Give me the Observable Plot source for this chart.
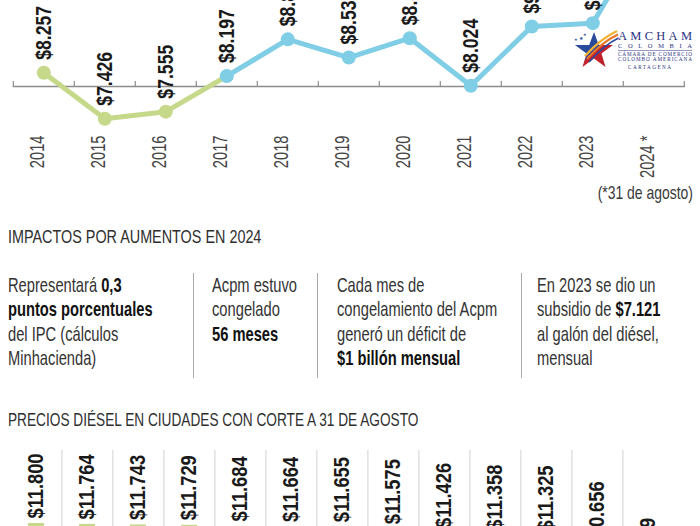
<!DOCTYPE html>
<html>
<head>
<meta charset="utf-8">
<script src="https://cdn.jsdelivr.net/npm/d3@7"></script>
<script src="https://cdn.jsdelivr.net/npm/@observablehq/plot@0.6"></script>
<style>
  body { margin: 0; background: #fff; }
  #page { position: relative; width: 700px; height: 526px; overflow: hidden; background: #fff;
    font-family: "Liberation Sans", Arial, sans-serif; color: #333; }
  .abs { position: absolute; white-space: nowrap; }
  .cx { display: inline-block; transform-origin: 0 0; }
  .title { font-size: 19px; line-height: 20px; color: #2e2e2e; }
  .col { font-size: 21px; line-height: 24.5px; top: 272.5px; color: #333; }
  .col .cx { transform: scaleX(0.70); }
  .col b { color: #111; }
  .sep { position: absolute; width: 1px; background: #a8a8a8; top: 273px; height: 105px; }
  #topchart { position: absolute; left: 0; top: -130px; }
  #barchart { position: absolute; left: 0; top: 440px; }
</style>
</head>
<body>
<div id="page">
  <div id="topchart"></div>
  <div class="abs" style="right:7px; top:183px; font-size:19px; line-height:20px; color:#3a3a3a;"><span class="cx" style="transform:scaleX(0.733); transform-origin:100% 0;">(*31 de agosto)</span></div>
  <svg class="abs" style="left:570px; top:26px;" width="128" height="48" viewBox="0 0 128 48">
    <defs>
      <linearGradient id="sg" x1="0" y1="0" x2="1" y2="1">
        <stop offset="0" stop-color="#2a4a9c"/>
        <stop offset="0.5" stop-color="#2a4a9c"/>
        <stop offset="0.55" stop-color="#c8222c"/>
        <stop offset="1" stop-color="#b01e2a"/>
      </linearGradient>
    </defs>
    <polygon points="24,6 28.8,19 43,19 31.5,27.5 35.5,41 24,32.5 12.5,41 16.5,27.5 5,19 19.2,19" fill="url(#sg)"/>
    <path d="M15,30 C24,20 34,11 47,5" stroke="#f2b233" stroke-width="2.4" fill="none"/>
    <path d="M17,33 C26,23 36,14 48,8.5" stroke="#e8772a" stroke-width="2.2" fill="none"/>
    <path d="M19,36 C28,26 38,17 48.5,12" stroke="#2a4a9c" stroke-width="1.6" fill="none"/>
    <text x="9" y="14" font-size="5" fill="#2a4a9c">★</text>
    <text x="13" y="10" font-size="3.5" fill="#2a4a9c">★</text>
    <text x="4" y="15" font-size="3.5" fill="#2a4a9c">★</text>
    <g font-family="'Liberation Serif', 'DejaVu Serif', serif" fill="#2c3282">
      <text x="48" y="14" font-size="12.5" textLength="74" lengthAdjust="spacing">AMCHAM</text>
      <text x="48" y="22" font-size="6.5" textLength="74" lengthAdjust="spacing">COLOMBIA</text>
      <line x1="48" y1="24.5" x2="122" y2="24.5" stroke="#2c3282" stroke-width="0.5"/>
      <text x="48" y="29.7" font-size="5.2" textLength="74" lengthAdjust="spacing">CÁMARA DE COMERCIO</text>
      <text x="48" y="34.7" font-size="5.2" textLength="74" lengthAdjust="spacing">COLOMBO AMERICANA</text>
      <text x="58" y="42.7" font-size="5.2" textLength="43" lengthAdjust="spacing">CARTAGENA</text>
    </g>
  </svg>

  <div class="abs title" style="left:8px; top:226.5px;"><span class="cx" style="transform:scaleX(0.757);">IMPACTOS POR AUMENTOS EN 2024</span></div>
  <div class="abs col" style="left:8px;"><span class="cx">Representará <b>0,3</b><br><b>puntos porcentuales</b><br>del IPC (cálculos<br>Minhacienda)</span></div>
  <div class="sep" style="left:193px;"></div>
  <div class="abs col" style="left:212px;"><span class="cx">Acpm estuvo<br>congelado<br><b>56 meses</b></span></div>
  <div class="sep" style="left:317px;"></div>
  <div class="abs col" style="left:337px;"><span class="cx">Cada mes de<br>congelamiento del Acpm<br>generó un déficit de<br><b>$1 billón mensual</b></span></div>
  <div class="sep" style="left:521px;"></div>
  <div class="abs col" style="left:537px;"><span class="cx">En 2023 se dio un<br>subsidio de <b>$7.121</b><br>al galón del diésel,<br>mensual</span></div>

  <div class="abs title" style="left:8px; top:410px;"><span class="cx" style="transform:scaleX(0.719);">PRECIOS DIÉSEL EN CIUDADES CON CORTE A 31 DE AGOSTO</span></div>
  <div id="barchart"></div>
</div>

<script>
// ---- Data: national diesel (ACPM) price per gallon ----
const years = [2014, 2015, 2016, 2017, 2018, 2019, 2020, 2021, 2022, 2023, 2024];
const yearLabels = ["2014", "2015", "2016", "2017", "2018", "2019", "2020", "2021", "2022", "2023", "2024 *"];
const prices = [8257, 7426, 7555, 8197, 8861, 8533, 8882, 8024, 9094, 9154, 11009];
const segment = ["A", "A", "A", "B", "B", "B", "B", "B", "B", "B", "B"];

// ---- Data: diesel prices in cities as of 31 August ----
const cityIds = ["C01", "C02", "C03", "C04", "C05", "C06", "C07", "C08", "C09", "C10", "C11", "C12", "C13"];
const cityPrices = [11800, 11764, 11743, 11729, 11684, 11664, 11655, 11575, 11426, 11358, 11325, 10656, 9619];

const green = "#c6d98a";
const blue = "#80cde6";
const fontFamily = '"Liberation Sans", Arial, sans-serif';

const fmt = d3.formatLocale({decimal: ",", thousands: ".", grouping: [3], currency: ["$", ""]}).format("$,");

// condense rotated text along its own reading direction (narrow typeface look)
function condense(svg, key, s) {
  svg.querySelectorAll(`g[aria-description="${key}"] text`).forEach(t => {
    const tr = t.getAttribute("transform") || "";
    t.setAttribute("transform", `${tr} scale(${s},1)`);
  });
}

const topData = years.map((y, i) => ({year: y, price: prices[i], seg: segment[i], label: fmt(prices[i]), ylab: yearLabels[i]}));
const firstB = topData.find(d => d.seg === "B");
const lineA = [...topData.filter(d => d.seg === "A"), firstB];
const lineB = topData.filter(d => d.seg === "B");
const boundaries = [years[0] - 0.5, ...years.map(y => y + 0.5)];

const topChart = Plot.plot({
  width: 700,
  height: 340,
  marginLeft: 12.8,
  marginRight: 16.2,
  marginTop: 0,
  marginBottom: 124,
  style: {fontFamily, background: "transparent", overflow: "visible"},
  x: {domain: [boundaries[0], boundaries[boundaries.length - 1]], axis: null},
  y: {domain: [8009.5, 11912], axis: null},
  marks: [
    Plot.frame({anchor: "bottom", stroke: "#8c8c8c", strokeWidth: 1.3}),
    Plot.tickX(boundaries, {x: d => d, stroke: "#8c8c8c", strokeWidth: 1.2, insetTop: 211}),
    Plot.line(lineA, {x: "year", y: "price", stroke: green, strokeWidth: 5}),
    Plot.line(lineB, {x: "year", y: "price", stroke: blue, strokeWidth: 5}),
    Plot.dot(topData.filter(d => d.seg === "A"), {x: "year", y: "price", r: 7, fill: green}),
    Plot.dot(topData.filter(d => d.seg === "B"), {x: "year", y: "price", r: 7, fill: blue}),
    Plot.text(topData, {x: "year", y: "price", text: "label", rotate: -90, textAnchor: "start", dy: -13,
      fontSize: 21.5, fontWeight: "bold", fill: "#1a1a1a", ariaDescription: "value-labels"}),
    Plot.text(topData, {x: "year", text: "ylab", frameAnchor: "bottom", rotate: -90, textAnchor: "end", dy: 49,
      fontSize: 21, fill: "#444", ariaDescription: "year-labels"})
  ]
});
condense(topChart, "value-labels", 0.82);
condense(topChart, "year-labels", 0.70);
document.getElementById("topchart").append(topChart);

const barData = cityIds.map((c, i) => ({city: c, price: cityPrices[i], label: fmt(cityPrices[i])}));
const bMarginLeft = 8.8, bMarginRight = 25.6, bWidth = 700;
const step = (bWidth - bMarginLeft - bMarginRight) / cityIds.length;

const barChart = Plot.plot({
  width: bWidth,
  height: 390,
  marginLeft: bMarginLeft,
  marginRight: bMarginRight,
  marginTop: 0,
  marginBottom: 8.5,
  style: {fontFamily, background: "transparent"},
  x: {type: "band", domain: cityIds, paddingInner: 0.69, paddingOuter: 0.345, axis: null},
  y: {domain: [0, 15080], axis: null},
  marks: [
    Plot.ruleX(cityIds.slice(1), {x: d => d, dx: -step / 2, stroke: "#d2d2d2", strokeWidth: 1, insetTop: 10}),
    Plot.barY(barData, {x: "city", y: "price", fill: green}),
    Plot.text(barData, {x: "city", y: "price", text: "label", rotate: -90, textAnchor: "start", dy: -5,
      fontSize: 21.5, fontWeight: "bold", fill: "#1a1a1a", ariaDescription: "bar-labels"})
  ]
});
condense(barChart, "bar-labels", 0.85);
document.getElementById("barchart").append(barChart);
</script>
</body>
</html>
